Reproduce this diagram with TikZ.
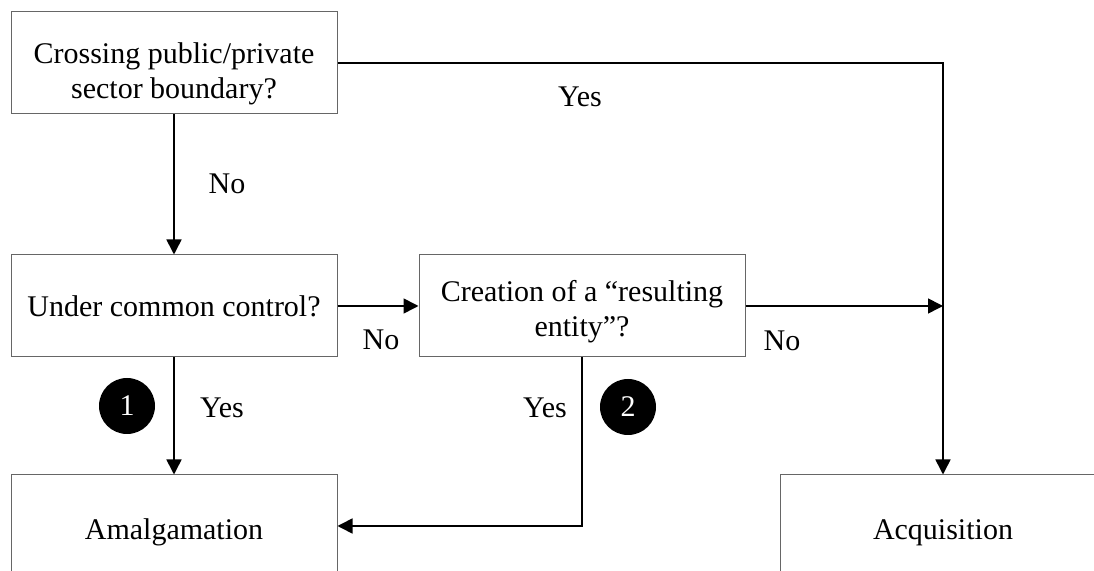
\documentclass[tikz,border=0pt]{standalone}
\usepackage{fontspec}
\setmainfont{Liberation Serif}
\usetikzlibrary{arrows.meta}

\newcommand{\boxstrut}[1][16.5pt]{\rule{0pt}{#1}}

\tikzset{
  box/.style={draw=black!60, line width=0.5pt, minimum width=163pt, minimum height=51pt,
    align=center, inner sep=2pt, font=\fontsize{15}{17.5}\selectfont},
  conn/.style={draw=black, line width=0.8pt, -{Triangle[length=7.5pt,width=7.5pt]}},
  lbl/.style={font=\fontsize{15}{17.5}\selectfont},
  num/.style={circle, fill=black, text=white, minimum size=28pt, inner sep=0pt,
    font=\fontsize{15}{17.5}\selectfont}
}

\begin{document}
\begin{tikzpicture}[x=0.5pt,y=-0.5pt]
\useasboundingbox (0,0) rectangle (1094,571);

% Decision boxes
\node[box] (cross) at (174,63) {\boxstrut[21pt]Crossing public/private\\sector boundary?};
\node[box] (ctrl) at (174,306) {Under common control?};
\node[box] (creat) at (582,306) {\boxstrut Creation of a “resulting\\entity”?};

% Outcomes
\node[box] (amal) at (174,526) {\boxstrut Amalgamation};
\node[box] (acq) at (943,526) {\boxstrut Acquisition};

% Connectors
\coordinate (join) at (acq.north |- creat.east);
\draw[conn] (cross.south) -- (ctrl.north);
\draw[conn] (ctrl.east) -- (creat.west);
\draw[conn] (ctrl.south) -- (amal.north);
\draw[conn] (creat.south) |- (amal.east);
\draw[conn] (cross.east) -| (acq.north);
\draw[conn] (creat.east) -- (join);

% Labels
\node[lbl] (no1) at (227,184) {No};
\node[lbl] (no2) at (381,340) {No};
\node[lbl] (no3) at (782,341) {No};
\node[lbl] (yes1) at (580,97) {Yes};
\node[lbl] (yes2) at (222,408) {Yes};
\node[lbl] (yes3) at (545,408) {Yes};

% Numbered markers
\node[num] (n1) at (127,406) {1};
\node[num] (n2) at (628,407) {2};
\end{tikzpicture}
\end{document}
